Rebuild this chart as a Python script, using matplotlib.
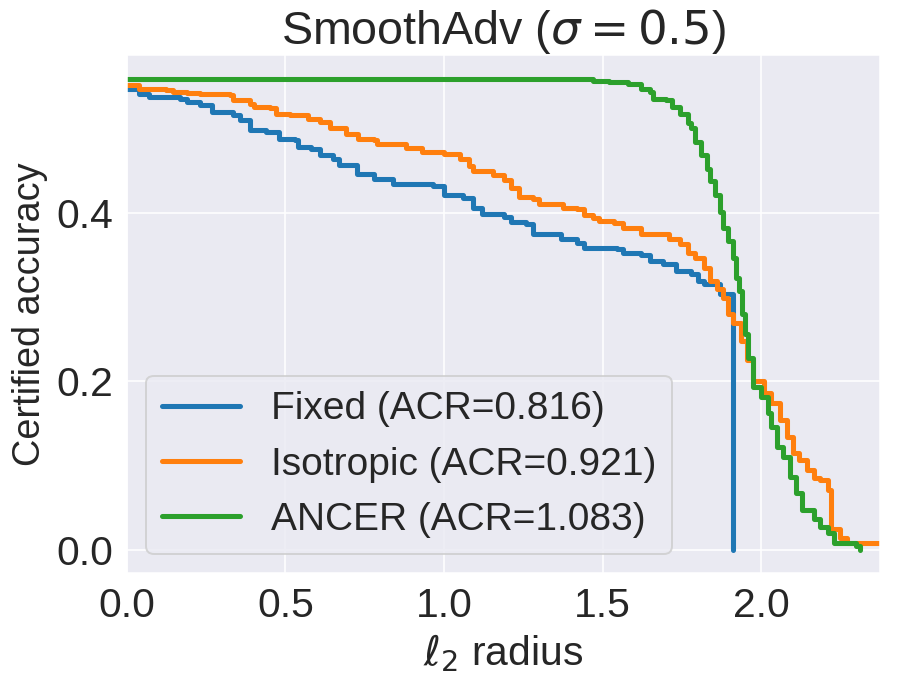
import numpy as np
import matplotlib
matplotlib.use("Agg")
import matplotlib.pyplot as plt
import seaborn as sns

# step points (radius, certified accuracy)
fixed_r = [0.0, 0.04, 0.07, 0.167, 0.19, 0.23, 0.27, 0.335, 0.357, 0.39, 0.44, 0.48,
           0.53, 0.54, 0.58, 0.61, 0.65, 0.67, 0.725, 0.78, 0.84, 0.965, 1.0, 1.06,
           1.09, 1.12, 1.19, 1.21, 1.26, 1.28, 1.32, 1.37, 1.42, 1.44, 1.545, 1.565,
           1.62, 1.65, 1.69, 1.73, 1.78, 1.80, 1.82, 1.87, 1.91]
fixed_acc = [0.548, 0.542, 0.538, 0.536, 0.533, 0.529, 0.521, 0.517, 0.511, 0.499, 0.497,
             0.489, 0.487, 0.479, 0.476, 0.470, 0.465, 0.458, 0.447, 0.441, 0.435, 0.433,
             0.422, 0.418, 0.406, 0.399, 0.396, 0.390, 0.387, 0.376, 0.375, 0.369, 0.365,
             0.359, 0.357, 0.353, 0.351, 0.343, 0.340, 0.331, 0.328, 0.320, 0.316, 0.304,
             0.0]

iso_r = [0.0, 0.04, 0.125, 0.146, 0.19, 0.23, 0.325, 0.335, 0.39, 0.40, 0.45, 0.47,
         0.515, 0.57, 0.61, 0.64, 0.69, 0.73, 0.78, 0.79, 0.86, 0.88, 0.91, 0.93, 1.0,
         1.05, 1.08, 1.09, 1.155, 1.19, 1.21, 1.235, 1.28, 1.30, 1.355, 1.375, 1.42,
         1.44, 1.47, 1.49, 1.535, 1.565, 1.62, 1.68, 1.71, 1.745, 1.77, 1.79, 1.82,
         1.84, 1.86, 1.88, 1.895, 1.91, 1.935, 1.955, 1.975, 2.01, 2.03, 2.06, 2.08,
         2.10, 2.12, 2.145, 2.165, 2.185, 2.21, 2.22, 2.25, 2.27, 2.40]
iso_acc = [0.553, 0.548, 0.547, 0.544, 0.543, 0.542, 0.541, 0.535, 0.530, 0.527, 0.525,
           0.518, 0.517, 0.512, 0.509, 0.501, 0.495, 0.489, 0.487, 0.483, 0.483, 0.478,
           0.478, 0.473, 0.471, 0.465, 0.456, 0.450, 0.446, 0.440, 0.430, 0.420, 0.417,
           0.411, 0.411, 0.406, 0.405, 0.398, 0.394, 0.391, 0.388, 0.382, 0.376, 0.375,
           0.369, 0.363, 0.353, 0.347, 0.335, 0.320, 0.310, 0.299, 0.280, 0.269, 0.248,
           0.225, 0.201, 0.186, 0.174, 0.154, 0.134, 0.115, 0.107, 0.095, 0.085, 0.083,
           0.071, 0.024, 0.014, 0.008, 0.004]

ancer_r = [0.0, 1.47, 1.52, 1.58, 1.62, 1.65, 1.66, 1.70, 1.72, 1.745, 1.77, 1.78, 1.79,
           1.81, 1.83, 1.84, 1.855, 1.87, 1.88, 1.895, 1.91, 1.92, 1.93, 1.94, 1.95,
           1.96, 1.975, 2.0, 2.02, 2.03, 2.05, 2.07, 2.09, 2.11, 2.13, 2.165, 2.185,
           2.21, 2.23, 2.30, 2.31]
ancer_acc = [0.560, 0.558, 0.556, 0.554, 0.548, 0.544, 0.536, 0.535, 0.527, 0.518, 0.507,
             0.501, 0.485, 0.470, 0.453, 0.438, 0.422, 0.402, 0.382, 0.367, 0.347, 0.323,
             0.308, 0.280, 0.257, 0.228, 0.193, 0.181, 0.162, 0.146, 0.122, 0.110, 0.086,
             0.067, 0.047, 0.036, 0.027, 0.020, 0.008, 0.004, 0.0]

labels = ["Fixed (ACR=0.816)", "Isotropic (ACR=0.921)", "ANCER (ACR=1.083)"]

sns.set_style("darkgrid")
plt.rcParams['font.family'] = ['Liberation Sans', 'DejaVu Sans']

fig, ax = plt.subplots(figsize=(899 / 140, 675 / 140), dpi=140)
ax.step(fixed_r, fixed_acc, where='post', lw=2.6, color='tab:blue', label=labels[0])
ax.step(iso_r, iso_acc, where='post', lw=2.6, color='tab:orange', label=labels[1])
ax.step(ancer_r, ancer_acc, where='post', lw=2.6, color='tab:green', label=labels[2])

ax.set_xlim(0, 2.375)
ax.set_ylim(-0.028, 0.588)
ax.set_xticks([0.0, 0.5, 1.0, 1.5, 2.0])
ax.set_yticks([0.0, 0.2, 0.4])
ax.tick_params(labelsize=21)
ax.set_xlabel(r"$\ell_2$ radius", fontsize=21)
ax.set_ylabel("Certified accuracy", fontsize=19.5)
ax.set_title(r"SmoothAdv ($\sigma = 0.5$)", fontsize=24)
ax.legend(loc='lower left', fontsize=20)

fig.subplots_adjust(left=0.141, right=0.979, top=0.918, bottom=0.151)
plt.savefig('out.png')
